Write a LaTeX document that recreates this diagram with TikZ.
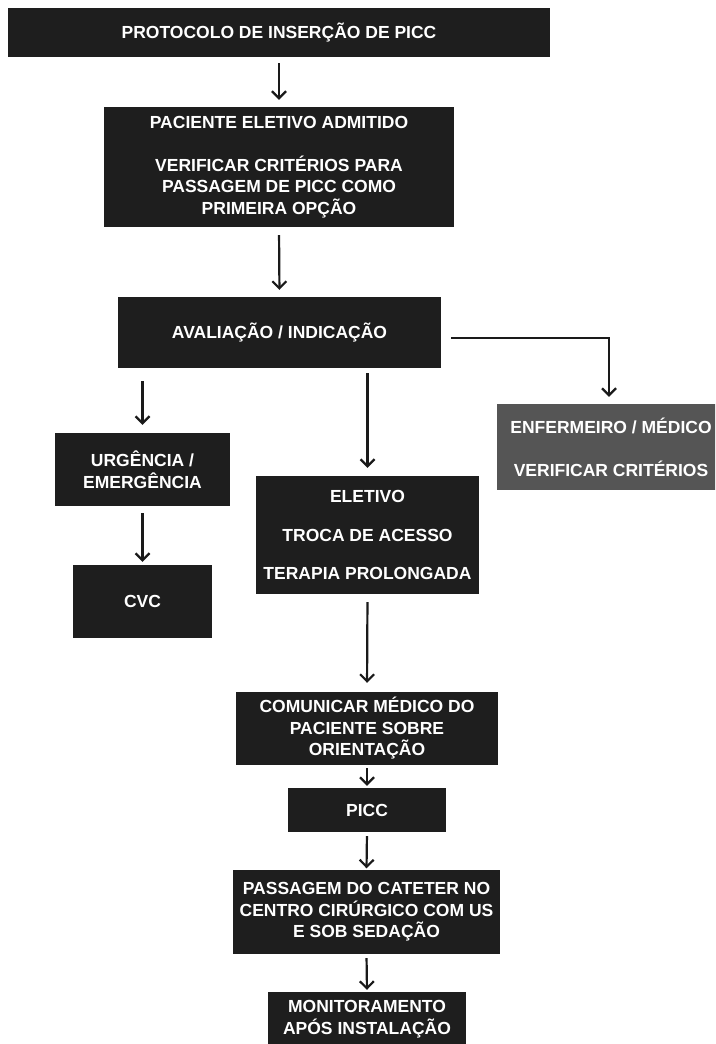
\documentclass[tikz,border=0pt]{standalone}
\usepackage{fontspec}
\setmainfont{Liberation Sans}
\usetikzlibrary{arrows.meta}
\definecolor{boxdark}{HTML}{1E1E1E}
\definecolor{boxgray}{HTML}{555555}
\definecolor{arrcol}{HTML}{1A1A1A}
\begin{document}
\begin{tikzpicture}[x=1pt,y=-1pt,
  box/.style={rectangle, fill=boxdark, text=white, inner sep=0pt, align=center,
    font=\fontsize{17.5}{21.5}\selectfont\bfseries},
  graybox/.style={box, fill=boxgray},
  arr/.style={-{Straight Barb[length=7pt,width=14pt]}, line width=2.2pt, draw=arrcol}]
\useasboundingbox (0,0) rectangle (715,1044);
\clip (0,0) rectangle (715,1044);
\fill[white] (0,0) rectangle (715,1044);

\node[box, minimum width=542pt, minimum height=49pt] (title) at (279,32.5)
  {PROTOCOLO DE INSERÇÃO DE PICC};
\node[box, minimum width=350pt, minimum height=120pt] (adm) at (279,167)
  {PACIENTE ELETIVO ADMITIDO\\[21.5pt]VERIFICAR CRITÉRIOS PARA\\PASSAGEM DE PICC COMO\\PRIMEIRA OPÇÃO};
\node[box, minimum width=323pt, minimum height=71pt] (aval) at (279.5,332.5)
  {AVALIAÇÃO / INDICAÇÃO};
\node[box, minimum width=175pt, minimum height=73pt] (urg) at (142.5,469.5)
  {URGÊNCIA /\\EMERGÊNCIA};
\node[box, minimum width=139.5pt, minimum height=73pt] (cvc) at (142.5,601.5)
  {CVC};
\node[box, minimum width=222.5pt, minimum height=118pt] (elet) at (367.5,535)
  {ELETIVO\\[17pt]TROCA DE ACESSO\\[17pt]TERAPIA PROLONGADA};
\node[graybox, minimum width=228pt, minimum height=86pt] (enf) at (611,447)
  {ENFERMEIRO / MÉDICO\\[21.5pt]VERIFICAR CRITÉRIOS};
\node[box, minimum width=261.5pt, minimum height=73pt] (com) at (367,728.5)
  {COMUNICAR MÉDICO DO\\PACIENTE SOBRE\\ORIENTAÇÃO};
\node[box, minimum width=157.5pt, minimum height=44pt] (picc) at (367,810)
  {PICC};
\node[box, minimum width=267pt, minimum height=84pt] (pass) at (366.5,912)
  {PASSAGEM DO CATETER NO\\CENTRO CIRÚRGICO COM US\\E SOB SEDAÇÃO};
\node[box, minimum width=198pt, minimum height=54pt] (mon) at (367,1019)
  {MONITORAMENTO\\APÓS INSTALAÇÃO};

\draw[arr, shorten <=6pt, shorten >=7pt] (title.south) -- (adm.north);
\draw[arr, shorten <=8pt, shorten >=7pt] (adm.south) -- (aval.north);
\draw[arr, shorten <=13pt, shorten >=8pt] (aval.south -| urg.north) -- (urg.north);
\draw[arr, shorten <=5pt, shorten >=8pt] (aval.south -| elet.north) -- (elet.north);
\draw[arr, shorten <=10pt, shorten >=7pt] ([yshift=-5.5pt]aval.east) -| ([xshift=-2pt]enf.north);
\draw[arr, shorten <=7pt, shorten >=3pt] (urg.south) -- (cvc.north);
\draw[arr, shorten <=8pt, shorten >=9pt] (elet.south) -- (com.north);
\draw[arr, shorten <=3pt, shorten >=2pt] (com.south) -- (picc.north);
\draw[arr, shorten <=4pt, shorten >=1.5pt] (picc.south) -- (pass.north);
\draw[arr, shorten <=4pt, shorten >=2pt] (pass.south) -- (mon.north);
\end{tikzpicture}
\end{document}
